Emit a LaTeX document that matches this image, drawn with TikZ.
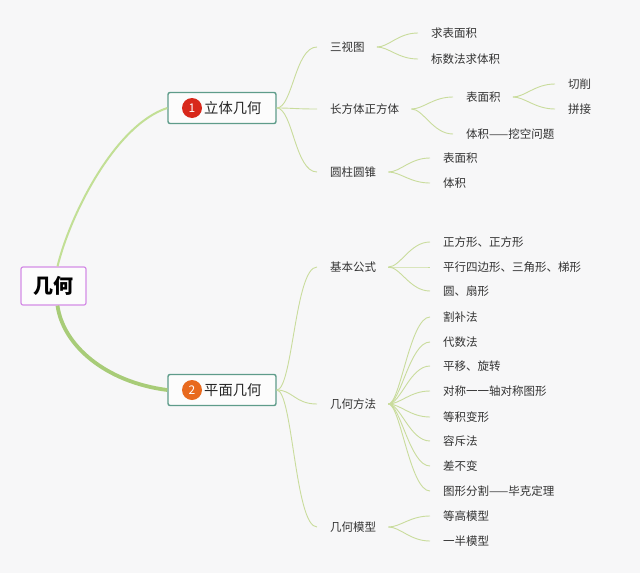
\documentclass[tikz,border=0pt]{standalone}
\usepackage{fontspec}
\setmainfont{Noto Sans CJK SC}
\definecolor{bg}{HTML}{F7F7F8}
\definecolor{leafc}{HTML}{C9DC9C}
\definecolor{topc}{HTML}{C2DF95}
\definecolor{botc}{HTML}{A8CC78}
\definecolor{boxb}{HTML}{5E9C8A}
\definecolor{rootb}{HTML}{D48CE6}
\definecolor{redc}{HTML}{D8281B}
\definecolor{orac}{HTML}{E86A1E}
\definecolor{txt}{HTML}{333333}
\tikzset{
  leaf/.style={anchor=west, inner sep=0pt, text=txt, font=\fontsize{11.5}{13}\selectfont},
  midbox/.style={draw=boxb, line width=1.4pt, fill=white!60!bg, rounded corners=2pt, minimum width=108pt, minimum height=31pt, inner sep=0pt},
  midtxt/.style={anchor=west, inner sep=0pt, text=black!85, font=\fontsize{14.3}{16}\selectfont},
  numc/.style={circle, inner sep=0pt, minimum size=20pt, text=white, font=\fontsize{12}{12}\selectfont},
  rootbox/.style={draw=rootb, line width=1.2pt, fill=white!60!bg, rounded corners=2pt, minimum width=65pt, minimum height=38pt, inner sep=0pt, font=\fontsize{20}{22}\selectfont\bfseries},
  br/.style={draw=leafc, line width=0.9pt},
}
\begin{document}
\begin{tikzpicture}[x=1pt,y=-1pt]
\fill[bg] (0,0) rectangle (640,573);
\useasboundingbox (0,0) rectangle (640,573);

% root
\node[rootbox] (root) at (53.5,286) {几何};

% main boxes
\node[midbox] (b1) at (222,108) {};
\node[numc, fill=redc] (c1) at (192,108) {1};
\node[midtxt] (t1) at (204,108) {立体几何};
\node[midbox] (b2) at (222,390) {};
\node[numc, fill=orac] (c2) at (192,390) {2};
\node[midtxt] (t2) at (204,390) {平面几何};

% root connectors
\draw[topc, line width=2pt] ([xshift=4pt]root.north) .. controls (70,215) and (115,125) .. (b1.west);
\draw[botc, line width=3.8pt] ([xshift=4pt]root.south) .. controls (63,345) and (105,382) .. (b2.west);

% level 2
\node[leaf] (s1) at (330,47) {三视图};
\node[leaf] (s2) at (330,109) {长方体正方体};
\node[leaf] (s3) at (330,172) {圆柱圆锥};
\node[leaf] (p1) at (330,267) {基本公式};
\node[leaf] (p2) at (330,404) {几何方法};
\node[leaf] (p3) at (330,527) {几何模型};

\foreach \n in {s1,s2,s3}
  \draw[br] (b1.east) .. controls +(16,0) and +(-22,0) .. ([xshift=-13pt]\n.west);
\foreach \n in {p1,p2,p3}
  \draw[br] (b2.east) .. controls +(16,0) and +(-22,0) .. ([xshift=-13pt]\n.west);

% 三视图 children
\node[leaf] (s11) at (431,33) {求表面积};
\node[leaf] (s12) at (431,59) {标数法求体积};
% 长方体正方体 children
\node[leaf] (s21) at (466,97) {表面积};
\node[leaf] (s22) at (466,134) {体积——挖空问题};
\node[leaf] (s211) at (568,84) {切削};
\node[leaf] (s212) at (568,109) {拼接};
% 圆柱圆锥 children
\node[leaf] (s31) at (443,158) {表面积};
\node[leaf] (s32) at (443,183) {体积};

% 基本公式 children
\node[leaf] (p11) at (443,242) {正方形、正方形};
\node[leaf] (p12) at (443,267) {平行四边形、三角形、梯形};
\node[leaf] (p13) at (443,291) {圆、扇形};
% 几何方法 children
\node[leaf] (p21) at (443,317) {割补法};
\node[leaf] (p22) at (443,342) {代数法};
\node[leaf] (p23) at (443,366) {平移、旋转};
\node[leaf] (p24) at (443,391) {对称一一轴对称图形};
\node[leaf] (p25) at (443,417) {等积变形};
\node[leaf] (p26) at (443,441) {容斥法};
\node[leaf] (p27) at (443,466) {差不变};
\node[leaf] (p28) at (443,491) {图形分割——毕克定理};
% 几何模型 children
\node[leaf] (p31) at (443,516) {等高模型};
\node[leaf] (p32) at (443,541) {一半模型};

\foreach \a/\b in {s1/s11,s1/s12,s2/s21,s2/s22,s21/s211,s21/s212,s3/s31,s3/s32,
  p1/p11,p1/p12,p1/p13,p2/p21,p2/p22,p2/p23,p2/p24,p2/p25,p2/p26,p2/p27,p2/p28,p3/p31,p3/p32}
  \draw[br] ([xshift=12pt]\a.east) .. controls +(12,0) and +(-20,0) .. ([xshift=-13pt]\b.west);
\end{tikzpicture}
\end{document}
